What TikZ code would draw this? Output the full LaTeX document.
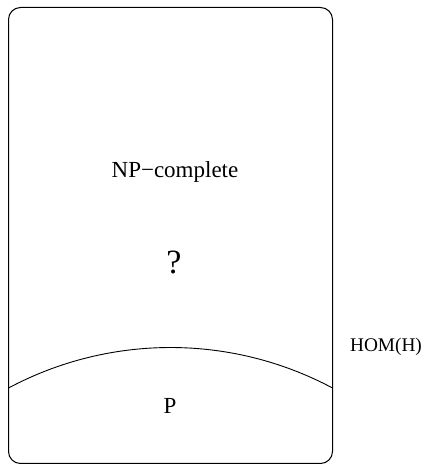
\documentclass[tikz,border=0pt]{standalone}
\usepackage{fontspec}
\setmainfont{Liberation Serif}
\begin{document}
\begin{tikzpicture}[x=1pt,y=1pt,
  lbl/.style={inner sep=0pt, anchor=base, font=\fontsize{23}{27}\selectfont},
  small/.style={inner sep=0pt, anchor=base, font=\fontsize{19.3}{22}\selectfont},
  big/.style={inner sep=0pt, anchor=base, font=\fontsize{34}{38}\selectfont},
  frame/.style={draw=black, line width=1pt, rounded corners=12pt}]
\useasboundingbox (0,0) rectangle (425,465);
\draw[frame] (8.5,1.5) rectangle (332.5,457.5);
\coordinate (L) at (8.5,77);
\draw[line width=0.9pt] (L) arc[start angle=118.07, end angle=61.93, radius=344.3];
\node[lbl] (np) at (175,287) {NP−complete};
\node[big] (q) at (174,191) {?};
\node[lbl] (p) at (170,51.7) {P};
\node[small] (hom) at (386,113.3) {HOM(H)};
\end{tikzpicture}
\end{document}
